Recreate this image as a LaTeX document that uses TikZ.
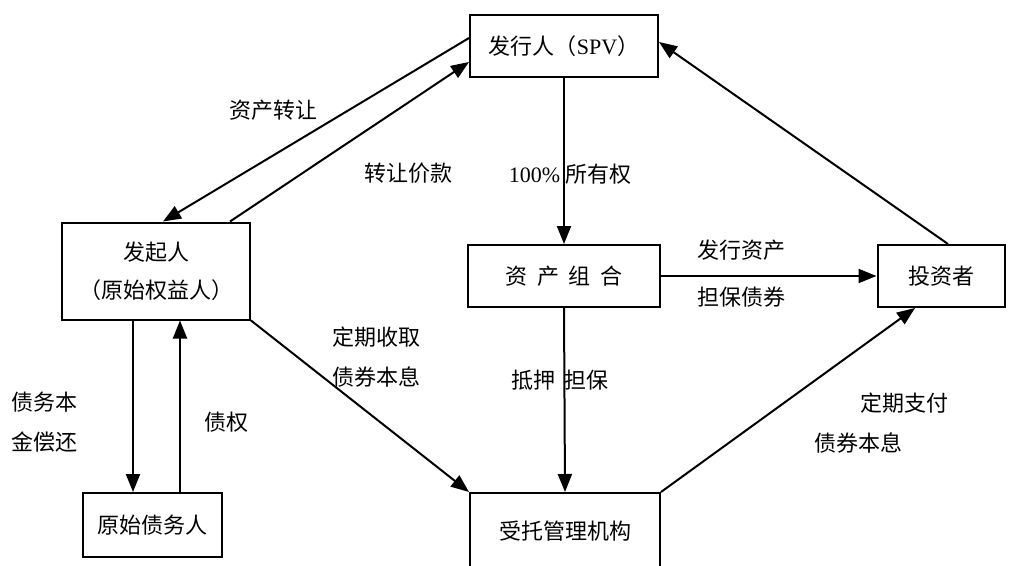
\documentclass[tikz,border=0pt]{standalone}
\usepackage{fontspec}
\setmainfont{Liberation Serif}
\newfontfamily\cjk{Noto Sans CJK SC}
\usetikzlibrary{arrows.meta}
\begin{document}
\begin{tikzpicture}
    [x=1pt,y=-1pt,
    box/.style={draw,line width=2pt,inner sep=0pt,font=\cjk\fontsize{22}{38}\selectfont,align=center},
    lbl/.style={font=\cjk\fontsize{22}{40}\selectfont,align=center,inner sep=0pt},
    arr/.style={line width=2pt,-{Triangle[length=18pt,width=14pt]}}]
    \clip (0,0) rectangle (1014,565);
    % boxes
    \node[box,minimum width=188pt,minimum height=62pt] (spv) at (564,46)
      {发行人（{\rmfamily SPV}）};
    \node[box,minimum width=188pt,minimum height=97pt] (orig) at (156,271)
      {发起人\\（原始权益人）};
    \node[box,minimum width=192pt,minimum height=62pt] (pool) at (564,276)
      {资\hspace{0.45em}产\hspace{0.45em}组\hspace{0.45em}合};
    \node[box,minimum width=127pt,minimum height=62pt] (inv) at (941,276) {投资者};
    \node[box,minimum width=139pt,minimum height=64pt] (debtor) at (152,525) {原始债务人};
    \node[box,minimum width=190pt,minimum height=96pt,text depth=22pt] (trust) at (565,541) {受托管理机构};
    % connectors
    \draw[arr] ([yshift=8pt]spv.west) -- ([xshift=7pt]orig.north);
    \draw[arr] ([xshift=74pt]orig.north) -- ([yshift=-16pt]spv.west);
    \draw[arr] (spv.south) -- (pool.north);
    \draw[arr] (pool.east) -- (inv.west);
    \draw[arr] ([xshift=7pt]inv.north) -- ([yshift=4pt]spv.east);
    \draw[arr] (pool.south) -- (trust.north);
    \draw[arr] (orig.south east) -- (trust.north west);
    \draw[arr] (trust.north east) -- ([xshift=-26pt]inv.south);
    \draw[arr] ([xshift=-23pt]orig.south) -- ([xshift=-23pt]orig.south |- debtor.north);
    \draw[arr] ([xshift=28pt]debtor.north) -- ([xshift=28pt]debtor.north |- orig.south);
    % labels
    \node[lbl] (l1) at (273,110) {资产转让};
    \node[lbl] (l2) at (408,173) {转让价款};
    \node[lbl] (l3) at (570,174) {{\rmfamily 100\%} 所有权};
    \node[lbl] (l4) at (741,250) {发行资产};
    \node[lbl] (l5) at (741,297) {担保债券};
    \node[lbl] (l6) at (376,357) {定期收取\\债券本息};
    \node[lbl] (l7) at (560,380) {抵押\hspace{0.4em}担保};
    \node[lbl] (l8) at (904,403) {定期支付};
    \node[lbl] (l9) at (858,443) {债券本息};
    \node[lbl] (l10) at (45,422) {债务本\\金偿还};
    \node[lbl] (l11) at (226,422) {债权};
\end{tikzpicture}
\end{document}
